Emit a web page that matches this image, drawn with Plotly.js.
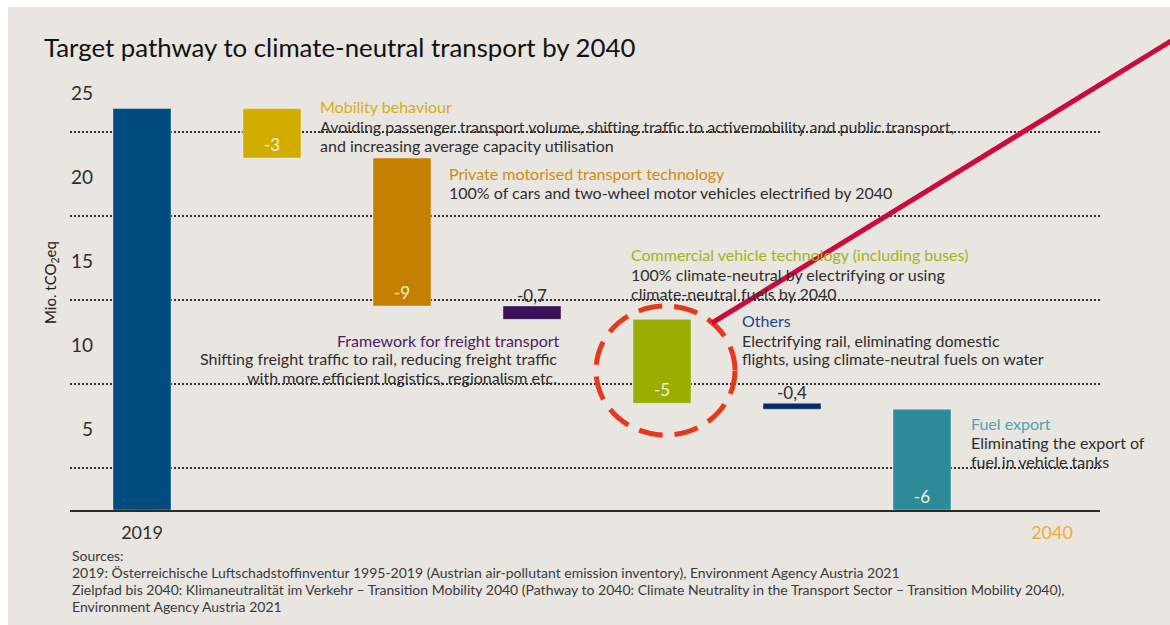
<!DOCTYPE html>
<html><head><meta charset="utf-8">
<script src="https://cdn.plot.ly/plotly-3.0.1.min.js"></script>
<style>html,body{margin:0;padding:0;background:#ffffff;}#chart{position:absolute;left:8px;top:7px;width:1162px;height:618px;}</style>
</head><body><div id="chart"></div>
<script>
// ---- data ----
const categories = ['2019', 'Mobility behaviour', 'Private motorised transport technology',
  'Framework for freight transport', 'Commercial vehicle technology (including buses)', 'Others', 'Fuel export'];
const start2019 = 23.9;
const deltas = [-2.95, -8.8, -0.8, -5.0, -0.35, -6.0];
const deltaLabels = ['-3', '-9', '-0,7', '-5', '-0,4', '-6'];
const xTickLabels = ['2019', '2040'];
const yTickValues = [5, 10, 15, 20, 25];
const gridValues = [2.5, 7.5, 12.5, 17.5, 22.5];
const descriptions = [
  ['Avoiding passenger transport volume, shifting traffic to activemobility and public transport,', 'and increasing average capacity utilisation'],
  ['100% of cars and two-wheel motor vehicles electrified by 2040'],
  ['Shifting freight traffic to rail, reducing freight traffic', 'with more efficient logistics, regionalism etc.'],
  ['100% climate-neutral by electrifying or using', 'climate-neutral fuels by 2040'],
  ['Electrifying rail, eliminating domestic', 'flights, using climate-neutral fuels on water'],
  ['Eliminating the export of', 'fuel in vehicle tanks']
];
const sourceLines = [
  'Sources:',
  '2019: Österreichische Luftschadstoffinventur 1995-2019 (Austrian air-pollutant emission inventory), Environment Agency Austria 2021',
  'Zielpfad bis 2040: Klimaneutralität im Verkehr – Transition Mobility 2040 (Pathway to 2040: Climate Neutrality in the Transport Sector – Transition Mobility 2040),',
  'Environment Agency Austria 2021'
];

// ---- styles ----
const barColors = ['#004c7e', '#d2ad00', '#c47f00', '#3d1157', '#9bad00', '#062c66', '#2e8c9a'];
const titleColors = ['#d4b010', '#d08a12', '#4a2266', '#a2b418', '#1c4482', '#4ea4b2'];
const BG = '#e9e5e1';
const TXT = '#2e2e2e';

// plot area in page pixels: left 70, right 1100, bottom 510, top 80
const PL = 70, PR = 1100, PB = 510, PT = 80;
const X = px => (px - PL) / (PR - PL);
const Y = py => (PB - py) / (PB - PT);

// build waterfall geometry from data
const xs = categories.map((c, i) => i);
const ys = [start2019].concat(deltas);
const bases = [0];
let run = start2019;
deltas.forEach(d => { bases.push(Math.round(run * 1000) / 1000); run += d; });
const allLabels = [''].concat(deltaLabels);
const inside = ys.map((v, i) => i > 0 && Math.abs(v) >= 1);

// main bars (no text) + labelled bars drawn as separate trace subsets
const bars = {
  type: 'bar', x: xs, y: ys, base: bases, width: 0.446,
  marker: {color: barColors, line: {color: 'rgba(255,255,255,0.35)', width: 1}},
  hoverinfo: 'skip', showlegend: false
};
const inIdx = xs.filter(i => inside[i]);
const inLabels = {
  type: 'bar', x: inIdx, y: inIdx.map(i => ys[i]), base: inIdx.map(i => bases[i]), width: 0.446,
  marker: {color: 'rgba(0,0,0,0)'}, text: inIdx.map(i => allLabels[i]),
  textposition: 'inside', insidetextanchor: 'end', textangle: 0,
  textfont: {color: '#f4efd9', size: 17, family: 'Lato'}, hoverinfo: 'skip', showlegend: false
};
const outIdx = xs.filter(i => i > 0 && !inside[i]);
const outLabels = {
  type: 'scatter', mode: 'text', x: outIdx, y: outIdx.map(i => bases[i]), text: outIdx.map(i => allLabels[i]),
  textposition: 'top center', textfont: {color: TXT, size: 17, family: 'Lato'},
  hoverinfo: 'skip', showlegend: false, cliponaxis: false
};

// annotations: category titles + descriptions
const annPos = [
  {x: 320, y: 106, a: 'left', lines: [126, 145]},
  {x: 449, y: 173, a: 'left', lines: [192]},
  {x: 560, y: 340, a: 'right', lines: [358, 377], bx: 557},
  {x: 631, y: 255, a: 'left', lines: [274, 293]},
  {x: 742, y: 320, a: 'left', lines: [340, 358]},
  {x: 971, y: 423, a: 'left', lines: [442, 461]}
];
const annotations = [];
const base = {xref: 'paper', yref: 'paper', showarrow: false, borderpad: 0, borderwidth: 0, yanchor: 'middle'};
annPos.forEach((p, k) => {
  annotations.push(Object.assign({}, base, {x: X(p.x), y: Y(p.y), xanchor: p.a,
    text: categories[k + 1], font: {size: 16, color: titleColors[k], family: 'Lato'}}));
  p.lines.forEach((ly, j) => {
    annotations.push(Object.assign({}, base, {x: X(p.bx || p.x), y: Y(ly), xanchor: p.a,
      text: descriptions[k][j], font: {size: 16, color: TXT, family: 'Lato'}}));
  });
});
const srcY = [555, 572, 589, 606];
sourceLines.forEach((s, i) => annotations.push(Object.assign({}, base, {x: X(72), y: Y(srcY[i]),
  xanchor: 'left', text: s, font: {size: 14, color: '#3a3a3a', family: 'Lato'}})));
annotations.push(Object.assign({}, base, {x: X(51), y: Y(283), xanchor: 'center',
  text: 'Mio. tCO<sub>2</sub>eq', textangle: -90, font: {size: 15, color: '#222', family: 'Lato'}}));

const shapes = [
  {type: 'circle', xref: 'paper', yref: 'paper', x0: X(596), x1: X(735), y0: Y(435), y1: Y(306),
   line: {color: '#e8381b', width: 5, dash: '24px,12px'}, layer: 'above'},
  {type: 'line', xref: 'paper', yref: 'paper', x0: X(712), y0: Y(323), x1: X(1176), y1: Y(38),
   line: {color: '#cc0a3c', width: 5}, layer: 'above'}
];

const layout = {
  width: 1162, height: 618,
  margin: {l: PL - 8, r: 1170 - PR, t: PT - 7, b: 618 - (PB - 7)},
  paper_bgcolor: BG, plot_bgcolor: BG,
  font: {family: 'Lato', color: TXT},
  title: {text: 'Target pathway to climate-neutral transport by 2040', xref: 'container', yref: 'container',
    x: (44 - 8) / 1162, xanchor: 'left', y: 1 - (48 - 7) / 618, yanchor: 'middle',
    font: {size: 25.8, color: '#111', family: 'Lato'}},
  xaxis: {range: [(PL - 142) / 130, (PR - 142) / 130], tickmode: 'array', tickvals: [0, categories.length],
    ticktext: [xTickLabels[0], '<span style="color:#f2a93b">' + xTickLabels[1] + '</span>'],
    showgrid: false, zeroline: false, showline: true, linecolor: '#2a2a2a', linewidth: 2,
    ticks: '', tickfont: {size: 18, color: TXT}, ticklabelstandoff: 5, fixedrange: true},
  yaxis: {range: [0, 25.6], tickmode: 'array', tickvals: yTickValues, showgrid: false, zeroline: false,
    showline: false, ticks: '', tickfont: {size: 19, color: TXT}, ticklabelstandoff: -24, ticklabelshift: 3,
    minor: {tickmode: 'array', tickvals: gridValues, showgrid: true, griddash: '2px,2px', gridcolor: '#333', gridwidth: 1.4, ticks: ''},
    fixedrange: true},
  annotations: annotations, shapes: shapes, barmode: 'overlay', bargap: 0, showlegend: false
};
Plotly.newPlot('chart', [bars, inLabels, outLabels], layout, {displayModeBar: false, staticPlot: true});
</script></body></html>
